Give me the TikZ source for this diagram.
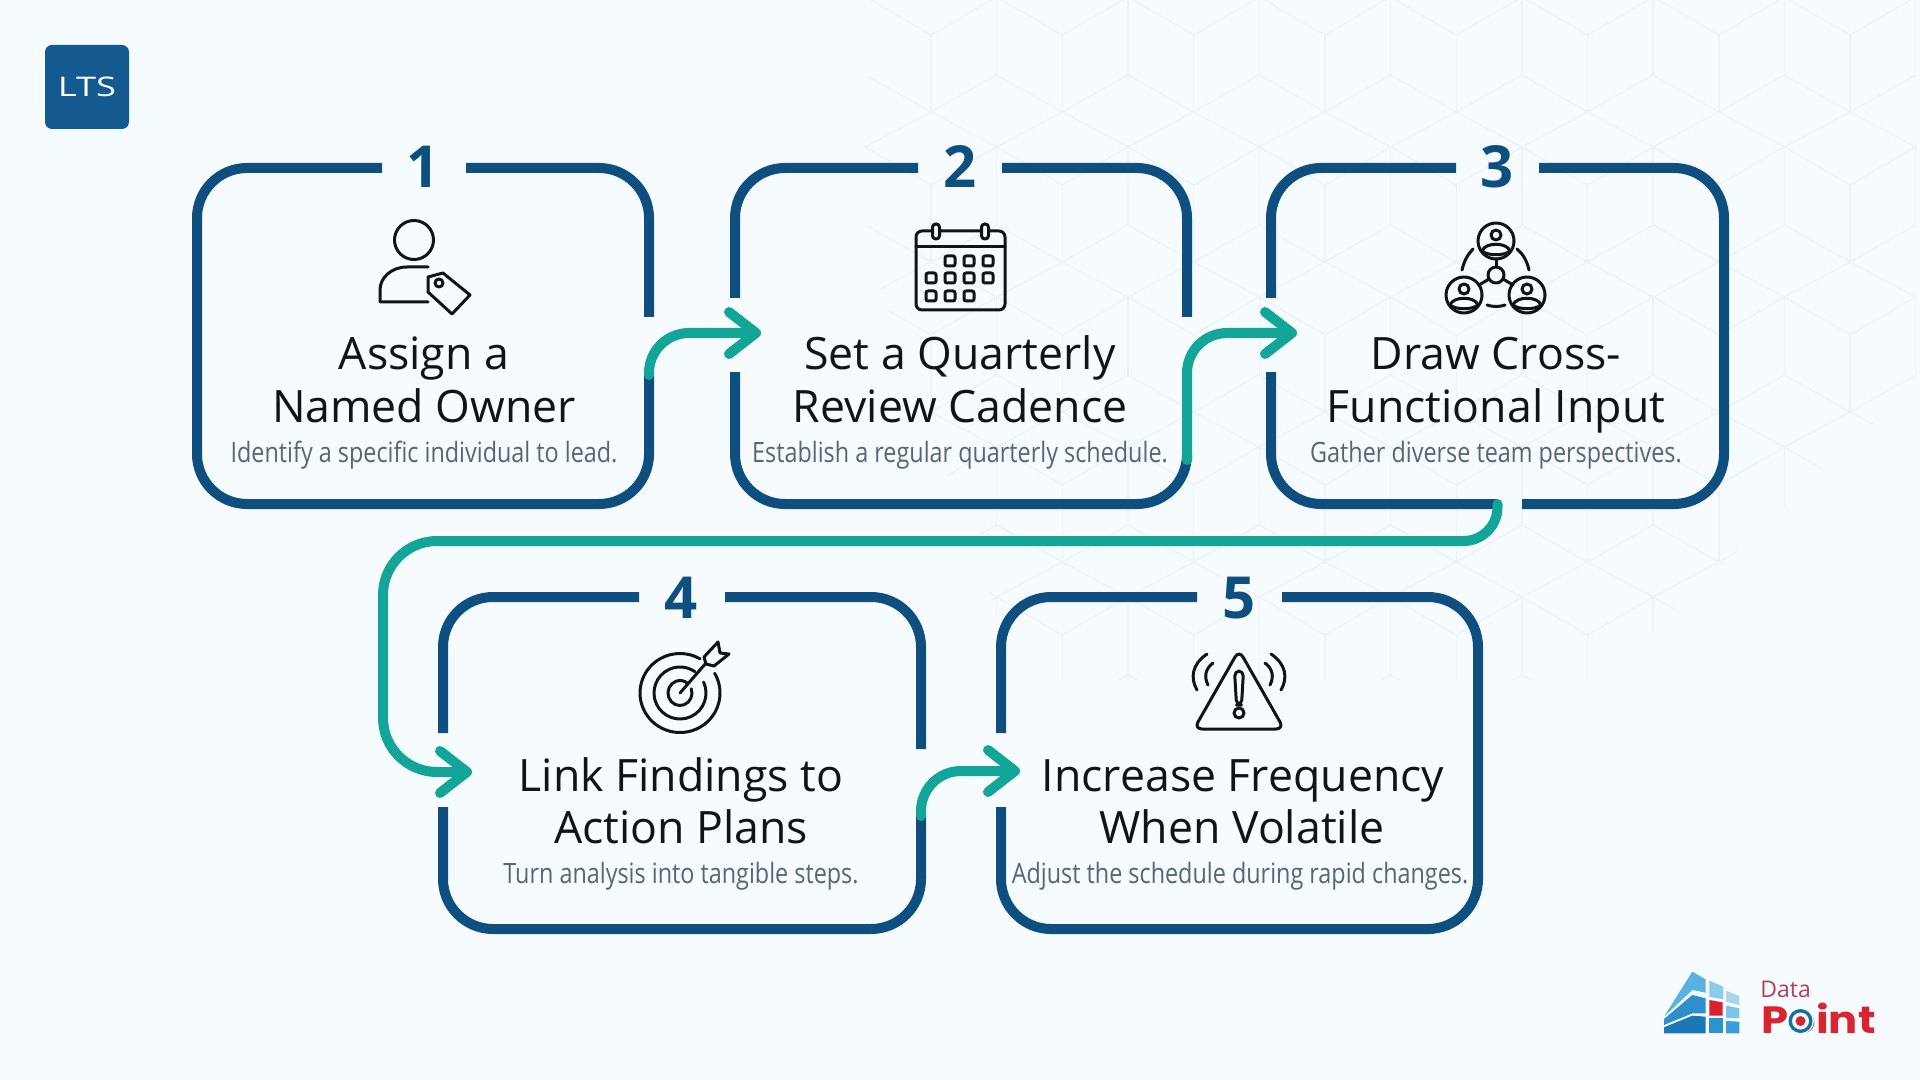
\documentclass[tikz,border=0pt]{standalone}
\usepackage{fontspec}
\setmainfont{Open Sans}
\newfontfamily\subfont[FakeStretch=0.835]{Open Sans}
\newfontfamily\popfont[FakeStretch=1.14]{Poppins}
\newfontfamily\ltsfont[FakeStretch=1.35]{Open Sans}
\usetikzlibrary{arrows.meta,calc}
\definecolor{bgc}{HTML}{F5FBFF}
\definecolor{hexc}{HTML}{EBF3F8}
\definecolor{navy}{HTML}{0F4F7F}
\definecolor{logob}{HTML}{14598F}
\definecolor{tealc}{HTML}{12A598}
\definecolor{inkc}{HTML}{111417}
\definecolor{subc}{HTML}{59666E}
\definecolor{ptred}{HTML}{D7262F}
\definecolor{datared}{HTML}{B8404F}
\tikzset{
  boxarea/.style={inner sep=0pt,outer sep=0pt,minimum height=#1},
  outline/.style={draw=navy,line width=5pt,line cap=butt,rounded corners=25pt},
  flow/.style={draw=tealc,line width=5pt,line cap=round,
    -{Straight Barb[length=13.5pt,width=21pt,line cap=round,line join=round]}},
  numlabel/.style={anchor=base,inner sep=0pt,text=navy,font=\fontsize{29}{30}\selectfont\bfseries},
  titletext/.style={anchor=base,inner sep=0pt,text=inkc,align=center,font=\fontsize{22.3}{26}\selectfont},
  subtext/.style={anchor=base,inner sep=0pt,text=subc,font=\fontsize{14}{16}\subfont},
  icon/.style={draw=inkc,line width=1.5pt,line cap=round,line join=round,fill=none},
  hexline/.style={draw=hexc,line width=0.7pt},
  netperson/.pic={
    \draw[icon] (0,0) circle[radius=18];
    \draw[icon] (0,-6) circle[radius=5];
    \draw[icon] (-14,10) .. controls (-11,1) and (11,1) .. (14,10) .. controls (8,15) and (-8,15) .. cycle;
  }
}
\begin{document}
\begin{tikzpicture}[x=0.5pt,y=-0.5pt]
\useasboundingbox (0,0) rectangle (1920,1080);
\fill[bgc] (0,0) rectangle (1920,1080);

% faint hexagon background
\begin{scope}
\clip (860,0) -- (1920,0) -- (1920,380) -- (1600,680) -- (1020,680) -- (860,230) -- cycle;
\foreach \i in {0,...,7}{
  \foreach \k in {0,...,4}{
    \pgfmathsetmacro{\xa}{931+131.3*\i}
    \pgfmathsetmacro{\xb}{\xa+65.6}
    \pgfmathsetmacro{\xc}{\xa-65.6}
    \pgfmathsetmacro{\yo}{150*\k}
    \draw[hexline] (\xa,\yo+35) -- (\xa,\yo+112);
    \draw[hexline] (\xb,\yo-3) -- (\xb,\yo+75);
    \draw[hexline] (\xc,\yo-3) -- (\xa,\yo+35) -- (\xb,\yo-3);
    \draw[hexline] (\xc,\yo+75) -- (\xa,\yo+112) -- (\xb,\yo+75);
    \draw[hexline] (\xc,\yo+147) -- (\xa,\yo+112) -- (\xb,\yo+147);
  }
}
\end{scope}

% logo LTS
\node[fill=logob,rounded corners=3.5pt,minimum width=42pt,minimum height=42pt,inner sep=0pt,text=white,font=\fontsize{13.5}{14}\ltsfont] (lts) at (87,87) {LTS};

% box reference areas
\node[boxarea=168pt,minimum width=226pt] (b1) at (423,336) {};
\node[boxarea=168pt,minimum width=226pt] (b2) at (961,336) {};
\node[boxarea=168pt,minimum width=226.5pt] (b3) at (1497.5,336) {};
\node[boxarea=166pt,minimum width=239pt] (b4) at (682,763) {};
\node[boxarea=166pt,minimum width=238.5pt] (b5) at (1239.5,763) {};

% outlines
\draw[outline] (466,168) -| (649,317);
\draw[outline] (649,375) |- (197,504) |- (382,168);

\draw[outline] (1002,168) -| (1187,317);
\draw[outline] (1187,460) |- (735,504) -- (735,372);
\draw[outline] (735,298) |- (918,168);

\draw[outline] (1539,168) -- (1724,168) -- (1724,504) -- (1522,504);
\draw[outline] (1497,504) -| (1271,372);
\draw[outline] (1271,298) |- (1456,168);

\draw[outline] (725,597) -| (921,749);
\draw[outline] (921,816) |- (443,929) -- (443,807);
\draw[outline] (443,733) |- (639,597);

\draw[outline] (1282,597) -| (1478,929) -| (1001,807);
\draw[outline] (1001,733) |- (1197,597);

% numbers
\node[numlabel] (n1) at (423,188) {1};
\node[numlabel] (n2) at (960,188) {2};
\node[numlabel] (n3) at (1497,188) {3};
\node[numlabel] (n4) at (681,618) {4};
\node[numlabel] (n5) at (1239,618) {5};

% titles
\node[titletext] (t1a) at (424,370) {Assign a};
\node[titletext] (t1b) at (424,422) {Named Owner};
\node[subtext] (s1) at (424,462) {Identify a specific individual to lead.};
\node[titletext] (t2a) at (960,370) {Set a Quarterly};
\node[titletext] (t2b) at (960,422) {Review Cadence};
\node[subtext] (s2) at (960,462) {Establish a regular quarterly schedule.};
\node[titletext] (t3a) at (1496,370) {Draw Cross-};
\node[titletext] (t3b) at (1496,422) {Functional Input};
\node[subtext] (s3) at (1496,462) {Gather diverse team perspectives.};
\node[titletext] (t4a) at (681,791) {Link Findings to};
\node[titletext] (t4b) at (681,843) {Action Plans};
\node[subtext] (s4) at (681,883) {Turn analysis into tangible steps.};
\node[titletext] (t5a) at (1243,791) {Increase Frequency};
\node[titletext] (t5b) at (1242,843) {When Volatile};
\node[subtext] (s5) at (1240,883) {Adjust the schedule during rapid changes.};

% connectors
\coordinate (s12) at ($(b1.east)+(0,39)$);
\coordinate (t12) at ($(b2.west)+(26,-3)$);
\coordinate (s23) at ($(b2.east)+(0,124)$);
\coordinate (t23) at ($(b3.west)+(26,-3)$);
\coordinate (c34) at (383,541);
\coordinate (t34) at ($(b4.west)+(29,9)$);
\coordinate (s45) at ($(b4.east)+(0,53)$);
\coordinate (t45) at ($(b5.west)+(19,8)$);
\draw[flow,rounded corners=20pt] (s12) |- (t12);
\draw[flow,rounded corners=20pt] (s23) |- (t23);
\draw[flow,rounded corners=17pt] (b3.south) |- (1000,541) [rounded corners=27pt] -- (c34) |- (t34);
\draw[flow,rounded corners=20pt] (s45) |- (t45);

% icon 1: person with tag
\draw[icon] (414,240) circle[radius=19.5];
\draw[icon] (428,267) -- (407,267) .. controls (391,267) and (380,278) .. (380,290) -- (380,302) -- (428,302);
\draw[icon] (428,277) -- (443,273) -- (470,295) -- (452,314) -- (428,292) -- cycle;
\draw[icon] (439,283) circle[radius=4];

% icon 2: calendar
\draw[icon,rounded corners=3pt] (916,231) rectangle (1005,310);
\draw[icon] (916,247) -- (1005,247);
\foreach \x in {936,985}
  \draw[icon,fill=bgc,rounded corners=1.6pt] (\x-3.5,224) rectangle (\x+3.5,239);
\foreach \x/\y in {950/261,969/261,988/261,931/278,950/278,969/278,988/278,931/296,950/296,969/296}
  \draw[icon,rounded corners=1pt] (\x-5,\y-5) rectangle (\x+5,\y+5);

% icon 3: network
\pic at (1496,241) {netperson};
\pic at (1464,295) {netperson};
\pic at (1527,295) {netperson};
\draw[icon] (1496,275) circle[radius=8];
\draw[icon] (1496,259) -- (1496,267);
\draw[icon] (1489,279) -- (1479,285);
\draw[icon] (1503,279) -- (1513,285);
\draw[icon] (1462,270) .. controls (1464,261) and (1468,254) .. (1473,249);
\draw[icon] (1529,270) .. controls (1527,261) and (1523,254) .. (1517,249);
\draw[icon] (1487,305) .. controls (1492,307) and (1500,307) .. (1505,305);

% icon 4: target
\draw[icon] (680,693) ++(-30:40 and 39.5) arc[start angle=-30,end angle=300,x radius=40,y radius=39.5];
\draw[icon] (680,693) ++(-25:26 and 26) arc[start angle=-25,end angle=305,radius=26];
\draw[icon] (680,693) ++(-20:12 and 12.5) arc[start angle=-20,end angle=310,x radius=12,y radius=12.5];
\draw[icon] (680,693) -- (706,663);
\draw[icon] (704,657) -- (718,642) -- (720,653) -- (729,654) -- (714,666) -- (706,664) -- cycle;

% icon 5: warning
\draw[icon,rounded corners=4pt] (1239,650) -- (1284,729) -- (1194,729) -- cycle;
\draw[icon,rounded corners=2.5pt] (1234.5,671) -- (1243.5,671) -- (1241.5,705) -- (1236.5,705) -- cycle;
\draw[icon] (1239,713) circle[radius=5];
\draw[icon] (1207,654) .. controls (1192,664) and (1190,678) .. (1197,690);
\draw[icon] (1213,663) .. controls (1205,669) and (1204,677) .. (1208,685);
\draw[icon] (1271,654) .. controls (1286,664) and (1288,678) .. (1281,690);
\draw[icon] (1265,663) .. controls (1273,669) and (1274,677) .. (1270,685);

% logo Data Point
\begin{scope}[shift={(1640,950)},scale=1/3]
  \definecolor{ba}{HTML}{5AB2E2}\definecolor{bb}{HTML}{2E8FCC}\definecolor{bc}{HTML}{1A78B8}
  \definecolor{bd}{HTML}{8CCBEA}\definecolor{be}{HTML}{A9D5EA}\definecolor{bf}{HTML}{7CC4E8}
  \definecolor{bg}{HTML}{2A93D0}\definecolor{bh}{HTML}{3A9FD8}\definecolor{bi}{HTML}{D8232A}
  \fill[ba] (72,200) -- (157,65) -- (197,88) -- (197,128) -- (157,120) -- cycle;
  \fill[bb] (72,207) -- (157,135) -- (197,145) -- (197,190) -- (157,190) -- (72,225) -- cycle;
  \fill[bc] (72,232) -- (157,197) -- (197,200) -- (197,250) -- (72,250) -- cycle;
  \fill[bd] (208,92) -- (250,110) -- (250,148) -- (208,140) -- cycle;
  \fill[be] (258,122) -- (298,138) -- (298,165) -- (258,155) -- cycle;
  \fill[bi] (208,150) -- (248,157) -- (248,197) -- (208,197) -- cycle;
  \fill[bf] (258,167) -- (298,175) -- (298,205) -- (258,203) -- cycle;
  \fill[bg] (208,205) -- (248,205) -- (248,250) -- (208,250) -- cycle;
  \fill[bh] (258,213) -- (298,215) -- (298,250) -- (258,250) -- cycle;
\end{scope}
\node[anchor=base west,inner sep=0pt,text=datared,font=\fontsize{11.5}{12}\selectfont] (data) at (1760,997) {Data};
\node[anchor=base west,inner sep=0pt,text=ptred,font=\fontsize{19}{20}\popfont\bfseries] (point) at (1761,1033) {Point};
\fill[bgc] (1801,1021) circle[radius=13];
\fill[logob!85!cyan] (1800.5,1021) circle[radius=12];
\fill[bgc] (1800.5,1021) circle[radius=8.5];
\fill[ptred] (1800.5,1021) circle[radius=5];
\end{tikzpicture}
\end{document}
